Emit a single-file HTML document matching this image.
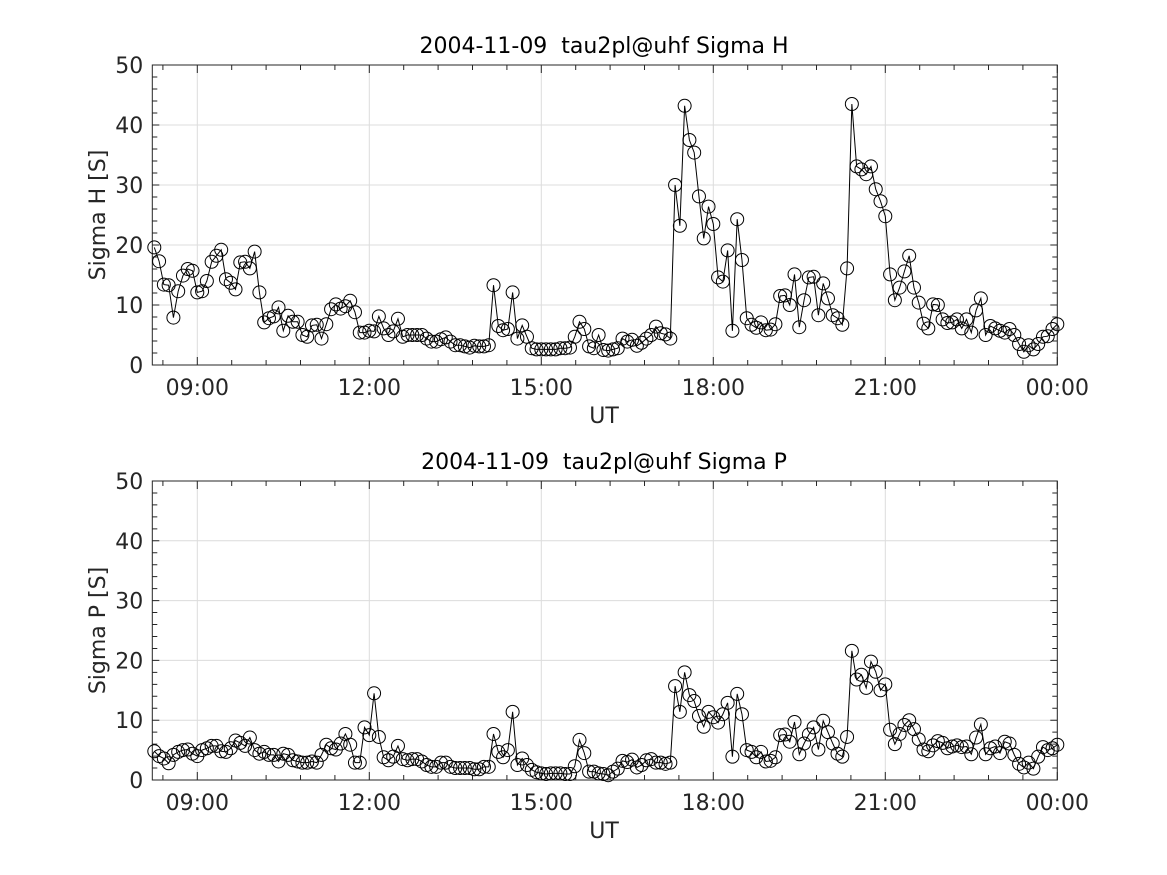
<!DOCTYPE html>
<html><head><meta charset="utf-8">
<style>
html,body{margin:0;padding:0;background:#fff;}
svg{display:block;font-family:"DejaVu Sans","Liberation Sans",sans-serif;}
text{white-space:pre;}
</style></head>
<body>
<svg id="chart" width="1167" height="875" viewBox="0 0 1167 875"></svg>
<script>
const startMin = 495;
const stepMin = 5;
const xTickLabels = ["09:00","12:00","15:00","18:00","21:00","00:00"];
const yTickLabels = ["0","10","20","30","40","50"];
const sigmaH = [19.6,17.3,13.4,13.3,7.9,12.3,14.9,16,15.7,12.1,12.3,14,17.2,18.2,19.2,14.3,13.7,12.6,17.1,17.2,16.1,18.9,12.1,7.1,7.8,8.1,9.6,5.7,8.2,7.2,7.2,5,4.7,6.6,6.7,4.4,6.8,9.3,10.1,9.4,9.8,10.7,8.8,5.4,5.4,5.7,5.6,8.1,
6.1,5.0,5.6,7.7,4.7,5.0,5.0,5.0,5.0,4.4,3.9,3.9,4.3,4.6,3.9,3.3,3.3,3.1,2.9,3.2,3.1,3.1,3.3,13.3,6.5,5.8,6.0,12.1,4.4,6.6,4.7,2.8,2.6,2.6,2.6,2.6,2.6,2.8,2.8,2.9,4.7,7.2,6.0,3.1,2.8,5.0,2.5,2.4,
2.6,2.8,4.4,3.9,4.2,3.2,3.7,4.4,5.0,6.4,5.3,5.1,4.4,30,23.2,43.2,37.5,35.4,28.1,21.1,26.4,23.5,14.6,13.9,19.1,5.7,24.3,17.5,7.8,6.7,6.2,7.1,5.8,5.9,6.8,11.5,11.6,10,15.1,6.3,10.8,14.6,14.7,8.3,13.6,11.1,
8.3,7.8,6.7,16.1,43.5,33.1,32.6,31.8,33.1,29.3,27.3,24.8,15.1,10.8,12.9,15.6,18.2,12.9,10.4,6.9,6.1,10.1,10.0,7.6,7.0,7.1,7.6,6.1,7.6,5.4,9.1,11.1,5.0,6.5,6.1,5.7,5.4,6.0,5.0,3.5,2.2,3.3,2.6,3.5,4.7,4.8,6.0,6.8];
const sigmaP = [4.8,4.0,3.6,2.8,4.2,4.7,5.0,5.1,4.4,4.0,5.0,5.3,5.7,5.7,4.8,4.7,5.3,6.6,6.2,5.7,7.1,5.0,4.4,4.7,4.2,4.2,3.1,4.4,4.2,3.3,3.1,2.9,2.9,3.1,2.9,4.2,5.9,5.3,5.1,6.1,7.7,5.9,2.9,2.9,8.8,7.5,14.5,7.2,
3.8,3.3,3.9,5.7,3.5,3.3,3.5,3.5,3.1,2.5,2.2,2.2,2.9,2.9,2.2,2.0,2.0,2.0,2.0,1.8,1.8,2.2,2.2,7.7,4.7,3.8,5.0,11.4,2.5,3.6,2.5,1.7,1.3,1.1,1.0,1.1,1.1,1.1,1.0,1.0,2.3,6.7,4.5,1.4,1.4,1.1,1.0,0.8,
1.4,1.9,3.2,3.0,3.4,2.1,2.5,3.3,3.5,2.9,2.9,2.7,2.9,15.7,11.4,18.0,14.2,13.2,10.7,8.9,11.4,10.5,9.6,11.0,12.9,3.9,14.4,11.0,5.0,4.7,3.8,4.7,3.1,3.2,3.8,7.5,7.6,6.4,9.7,4.3,6.1,7.6,8.8,5.1,9.9,8.0,
6.1,4.4,3.9,7.2,21.6,16.8,17.6,15.4,19.8,18.1,15.0,16.0,8.4,6.0,7.7,9.2,10.0,8.5,6.8,5.1,4.8,5.8,6.5,6.2,5.3,5.6,5.8,5.5,5.6,4.3,7.1,9.3,4.3,5.3,5.6,4.5,6.4,6.1,4.2,2.7,2.1,2.9,1.9,3.9,5.5,5.0,5.3,5.9];

const NS="http://www.w3.org/2000/svg";
const svg=document.getElementById('chart');
function mk(tag,attrs,parent){const e=document.createElementNS(NS,tag);for(const k in attrs)e.setAttribute(k,attrs[k]);(parent||svg).appendChild(e);return e;}

const X0=152.3, X1=1057.3;
const tMin=9*60-45*60/57.33, tMax=24*60;
function xs(t){return X0+(t-tMin)/(tMax-tMin)*(X1-X0);}

function panel(top,bottom,values,title,ylab,key){
  const g=mk('g',{});
  
  
  const ys=v=>bottom-(v/50)*(bottom-top);
  for(let i=0;i<xTickLabels.length;i++){
    const x=xs((9+3*i)*60);
    const gl=mk('line',{x1:x,x2:x,y1:top,y2:bottom,stroke:'#dcdcdc','stroke-width':1},g);
    
    
    const t=mk('text',{x:x,y:bottom+30,'font-size':22,'text-anchor':'middle',fill:'#262626'},g);
    t.textContent=xTickLabels[i];
    
    
  }
  for(let i=0;i<yTickLabels.length;i++){
    const v=+yTickLabels[i];const y=ys(v);
    if(v>0&&v<50){const gl=mk('line',{x1:X0,x2:X1,y1:y,y2:y,stroke:'#dcdcdc','stroke-width':1},g);
      
      }
    const t=mk('text',{x:X0-9,y:y+8,'font-size':22,'text-anchor':'end',fill:'#262626'},g);
    t.textContent=yTickLabels[i];
    
    
  }
  let tk='';
  for(let v=0;v<=50;v+=2){const y=ys(v);const L=(v%10===0)?7:5;tk+=`M${X0},${y}h${L}M${X1},${y}h${-L}`;}
  for(let i=-1;i<=26;i++){const x=xs(9*60)+i*34.4;if(x<X0||x>X1)continue;tk+=`M${x},${bottom}v-5M${x},${top}v5`;}
  for(let i=0;i<xTickLabels.length;i++){const x=xs((9+3*i)*60);tk+=`M${x},${bottom}v-8M${x},${top}v8`;}
  const tp=mk('path',{d:tk,stroke:'#262626','stroke-width':1,fill:'none'},g);
  
  
  const box=mk('rect',{x:X0,y:top,width:X1-X0,height:bottom-top,fill:'none',stroke:'#262626','stroke-width':1},g);
  
  
  let d='';
  values.forEach((v,i)=>{d+=(i?'L':'M')+xs(startMin+i*stepMin).toFixed(2)+','+ys(v).toFixed(2);});
  const ln=mk('path',{d:d,stroke:'#000','stroke-width':1,fill:'none'},g);
  
  
  values.forEach((v,i)=>{
    const c=mk('circle',{cx:xs(startMin+i*stepMin).toFixed(2),cy:ys(v).toFixed(2),r:6.5,fill:'none',stroke:'#000','stroke-width':1},g);
    
    
  });
  const tt=mk('text',{x:604,y:top-12,'font-size':22,'text-anchor':'middle',fill:'#000'},g);
  tt.textContent=title;
  
  
  const xl=mk('text',{x:604,y:bottom+58,'font-size':22,'text-anchor':'middle',fill:'#262626'},g);
  xl.textContent='UT';
  
  
  const cy=(top+bottom)/2;
  const yl=mk('text',{x:105,y:cy,'font-size':22,'text-anchor':'middle',fill:'#262626',transform:`rotate(-90 105 ${cy})`},g);
  yl.textContent=ylab;
  
  
}
panel(65,365,sigmaH,'2004-11-09  tau2pl@uhf Sigma H','Sigma H [S]','sigma-h');
panel(481,780,sigmaP,'2004-11-09  tau2pl@uhf Sigma P','Sigma P [S]','sigma-p');
</script>
</body></html>
